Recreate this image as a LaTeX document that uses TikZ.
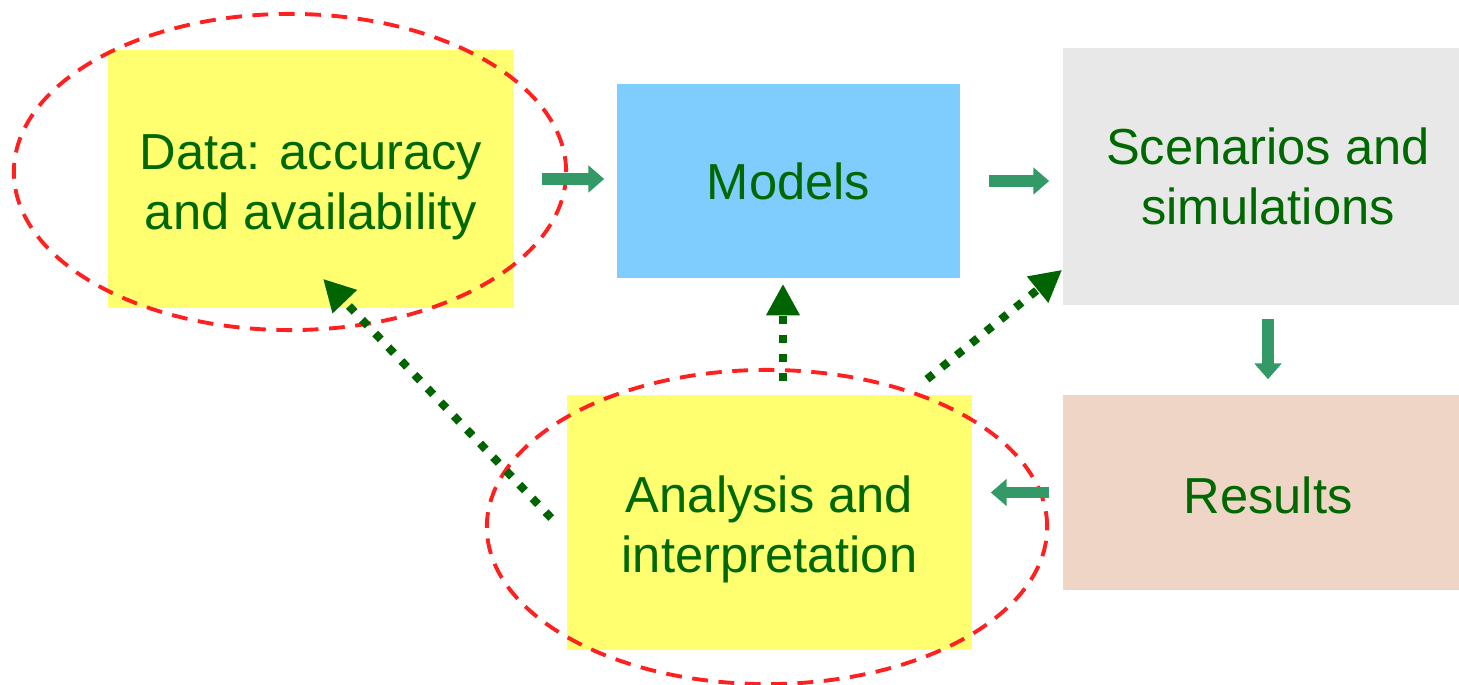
\documentclass[tikz,border=0pt]{standalone}
\usepackage{fontspec}
\setmainfont{Liberation Sans}
\usetikzlibrary{arrows.meta,calc}
\definecolor{txtgreen}{HTML}{006800}
\definecolor{dotgreen}{HTML}{006400}
\definecolor{arrgreen}{HTML}{339966}
\definecolor{boxyellow}{HTML}{FFFF70}
\definecolor{boxblue}{HTML}{7FCCFF}
\definecolor{boxgray}{HTML}{E8E8E8}
\definecolor{boxpink}{HTML}{EED5C5}
\definecolor{ellred}{HTML}{FF2020}
\tikzset{
  box/.style={draw=none, inner sep=0pt, align=center, text=txtgreen,
    font=\fontsize{14.4pt}{17.1pt}\selectfont},
  ellline/.style={draw=ellred, line width=1.1pt, dash pattern=on 4.5pt off 3pt},
  garrow/.style={draw=arrgreen, line width=3.4pt,
    -{Triangle[length=4.5pt,width=7.5pt]}},
  darrow/.style={draw=dotgreen, line width=2.3pt, dash pattern=on 2.3pt off 3.1pt,
    -{Triangle[length=9pt,width=9pt]}}
}
\begin{document}
\begin{tikzpicture}[x=0.01cm,y=-0.01cm]
\useasboundingbox (0,0) rectangle (1459,685);
% boxes
\node[box, fill=boxyellow, minimum width=4.06cm, minimum height=2.58cm] (data) at (311,179) {\rule{0pt}{14.5pt}Data: accuracy\\and availability};
\node[box, fill=boxblue, minimum width=3.43cm, minimum height=1.94cm] (models) at (788.5,181) {Models};
\node[box, fill=boxgray, minimum width=3.96cm, minimum height=2.57cm] (scen) at (1261,176.5) {\hspace*{4pt}Scenarios and\\\hspace*{4pt}simulations};
\node[box, fill=boxpink, minimum width=3.96cm, minimum height=1.95cm] (res) at (1261,492.5) {\rule{0pt}{12.1pt}\hspace*{4pt}Results};
\node[box, fill=boxyellow, minimum width=4.05cm, minimum height=2.55cm] (ana) at (769.5,522.5) {\rule{0pt}{14.5pt}Analysis and\\interpretation};
% ellipses
\draw[ellline] (290,172) ellipse [x radius=2.76cm, y radius=1.58cm];
\draw[ellline] (767,527) ellipse [x radius=2.80cm, y radius=1.57cm];
% solid green arrows
\draw[garrow, shorten <=0.27cm, shorten >=0.12cm] (data.east) -- (data.east -| models.west);
\draw[garrow, shorten <=0.28cm, shorten >=0.13cm] (models.east) -- (models.east -| scen.west);
\draw[garrow, shorten <=0.13cm, shorten >=0.15cm] ([xshift=0.07cm]scen.south) -- ([xshift=0.07cm]res.north);
\draw[garrow, shorten <=0.13cm, shorten >=0.18cm] (res.west) -- (res.west -| ana.east);
% dotted arrows
\draw[darrow] ([shift={(-15,-4.5)}]ana.west) -- ([shift={(12,-30)}]data.south);
\draw[darrow] ([shift={(13.5,-13)}]ana.north) -- ([shift={(-5.5,5)}]models.south);
\draw[darrow] ([shift={(157.5,-15)}]ana.north) -- ([shift={(0,-36)}]scen.south west);
\end{tikzpicture}
\end{document}
